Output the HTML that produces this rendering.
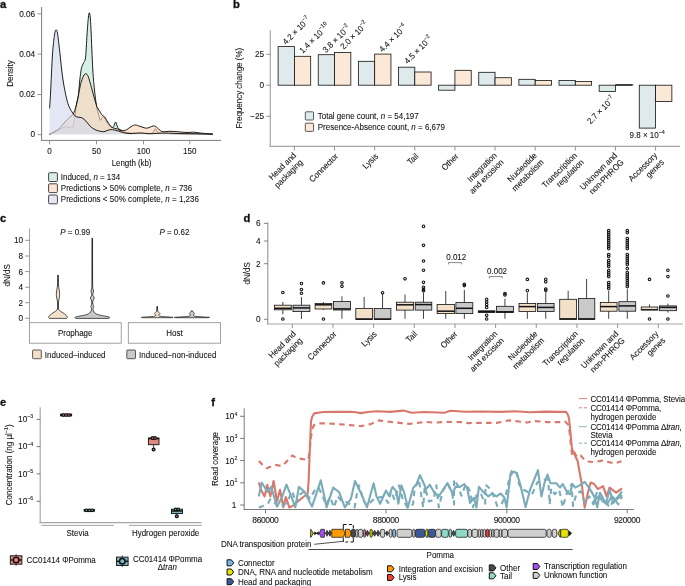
<!DOCTYPE html>
<html lang="en"><head><meta charset="utf-8"><title>Figure</title>
<style>
html,body{margin:0;padding:0;background:#fff;}
body{width:685px;height:586px;overflow:hidden;}
svg{display:block;font-family:"Liberation Sans",Arial,Helvetica,sans-serif;font-size:8.5px;fill:#111111;}
svg text{fill:#111111;stroke:#222;stroke-width:0.09px;paint-order:stroke fill}
</style></head><body>
<svg width="685" height="586" viewBox="0 0 685 586">
<g id="panel-a">
<text transform="translate(0.00 8.00)" font-weight="bold" style="stroke:#000;stroke-width:0.3px" font-size="11.2" fill="#000">a</text>
<path d="M49.60,134.20 C50.30,133.90 52.54,133.00 54.00,132.30 C55.46,131.60 57.42,130.49 58.70,129.80 C59.98,129.11 60.91,128.46 62.00,128.00 C63.09,127.54 64.38,127.03 65.50,126.90 C66.62,126.77 67.91,127.09 69.00,127.20 C70.09,127.31 71.52,128.30 72.30,127.60 C73.08,126.90 73.47,124.66 73.90,122.80 C74.33,120.94 74.58,119.01 75.00,116.00 C75.42,112.99 75.97,107.20 76.50,104.00 C77.03,100.80 77.77,99.84 78.30,96.00 C78.83,92.16 79.30,84.43 79.80,80.00 C80.30,75.57 80.81,71.02 81.40,68.30 C81.99,65.58 82.84,64.68 83.50,63.00 C84.16,61.32 84.94,62.28 85.50,57.80 C86.06,53.32 86.55,41.37 87.00,35.00 C87.45,28.63 87.93,21.55 88.30,18.00 C88.67,14.45 89.00,12.96 89.30,12.80 C89.60,12.64 89.93,14.28 90.20,17.00 C90.47,19.72 90.58,21.32 91.00,29.80 C91.42,38.28 92.24,60.37 92.80,70.00 C93.36,79.63 93.91,84.24 94.50,90.00 C95.09,95.76 95.91,102.29 96.50,106.00 C97.09,109.71 97.59,110.96 98.20,113.20 C98.81,115.44 99.69,119.23 100.30,120.00 C100.91,120.77 101.46,118.54 102.00,118.00 C102.54,117.46 103.14,116.36 103.70,116.60 C104.26,116.84 104.83,118.35 105.50,119.50 C106.17,120.65 106.96,122.55 107.90,123.80 C108.84,125.05 110.49,126.87 111.40,127.30 C112.31,127.73 112.93,127.35 113.60,126.50 C114.27,125.65 115.02,122.08 115.60,122.00 C116.18,121.92 116.75,124.93 117.20,126.00 C117.65,127.07 117.63,127.98 118.40,128.70 C119.17,129.42 120.78,129.89 122.00,130.50 C123.22,131.11 123.92,132.05 126.00,132.50 C128.08,132.95 131.48,133.16 135.00,133.30 C138.52,133.44 145.20,133.45 148.00,133.40 C150.80,133.35 151.30,133.75 152.50,133.00 C153.70,132.25 154.54,128.70 155.50,128.70 C156.46,128.70 156.18,132.22 158.50,133.00 C160.82,133.78 164.96,133.47 170.00,133.60 C175.04,133.73 183.15,133.70 190.00,133.80 C196.85,133.90 209.15,134.14 212.80,134.20 L212.80,134.3 L49.60,134.3 Z" fill="rgb(215,240,230)" stroke="none"/>
<path d="M49.60,134.20 C50.30,133.90 52.54,133.00 54.00,132.30 C55.46,131.60 57.42,130.49 58.70,129.80 C59.98,129.11 60.91,128.46 62.00,128.00 C63.09,127.54 64.38,127.03 65.50,126.90 C66.62,126.77 67.91,127.09 69.00,127.20 C70.09,127.31 71.52,128.30 72.30,127.60 C73.08,126.90 73.47,124.66 73.90,122.80 C74.33,120.94 74.58,119.01 75.00,116.00 C75.42,112.99 75.97,107.20 76.50,104.00 C77.03,100.80 77.77,99.84 78.30,96.00 C78.83,92.16 79.30,84.43 79.80,80.00 C80.30,75.57 80.81,71.02 81.40,68.30 C81.99,65.58 82.84,64.68 83.50,63.00 C84.16,61.32 84.94,62.28 85.50,57.80 C86.06,53.32 86.55,41.37 87.00,35.00 C87.45,28.63 87.93,21.55 88.30,18.00 C88.67,14.45 89.00,12.96 89.30,12.80 C89.60,12.64 89.93,14.28 90.20,17.00 C90.47,19.72 90.58,21.32 91.00,29.80 C91.42,38.28 92.24,60.37 92.80,70.00 C93.36,79.63 93.91,84.24 94.50,90.00 C95.09,95.76 95.91,102.29 96.50,106.00 C97.09,109.71 97.59,110.96 98.20,113.20 C98.81,115.44 99.69,119.23 100.30,120.00 C100.91,120.77 101.46,118.54 102.00,118.00 C102.54,117.46 103.14,116.36 103.70,116.60 C104.26,116.84 104.83,118.35 105.50,119.50 C106.17,120.65 106.96,122.55 107.90,123.80 C108.84,125.05 110.49,126.87 111.40,127.30 C112.31,127.73 112.93,127.35 113.60,126.50 C114.27,125.65 115.02,122.08 115.60,122.00 C116.18,121.92 116.75,124.93 117.20,126.00 C117.65,127.07 117.63,127.98 118.40,128.70 C119.17,129.42 120.78,129.89 122.00,130.50 C123.22,131.11 123.92,132.05 126.00,132.50 C128.08,132.95 131.48,133.16 135.00,133.30 C138.52,133.44 145.20,133.45 148.00,133.40 C150.80,133.35 151.30,133.75 152.50,133.00 C153.70,132.25 154.54,128.70 155.50,128.70 C156.46,128.70 156.18,132.22 158.50,133.00 C160.82,133.78 164.96,133.47 170.00,133.60 C175.04,133.73 183.15,133.70 190.00,133.80 C196.85,133.90 209.15,134.14 212.80,134.20" fill="none" stroke="#111" stroke-width="0.95" stroke-linejoin="round"/>
<path d="M49.60,134.20 C50.30,133.85 52.54,132.83 54.00,132.00 C55.46,131.17 57.42,130.04 58.70,129.00 C59.98,127.96 60.91,126.72 62.00,125.50 C63.09,124.28 64.46,122.55 65.50,121.40 C66.54,120.25 67.62,119.16 68.50,118.30 C69.38,117.44 70.28,116.59 71.00,116.00 C71.72,115.41 72.14,116.36 73.00,114.60 C73.86,112.84 75.52,108.14 76.40,105.00 C77.28,101.86 77.84,98.26 78.50,95.00 C79.16,91.74 79.70,87.64 80.50,84.60 C81.30,81.56 82.64,77.73 83.50,76.00 C84.36,74.27 85.15,73.72 85.90,73.80 C86.65,73.88 87.32,74.34 88.20,76.50 C89.08,78.66 90.47,84.02 91.40,87.30 C92.33,90.58 93.12,93.94 94.00,97.00 C94.88,100.06 96.02,104.16 96.90,106.40 C97.78,108.64 98.64,109.58 99.50,111.00 C100.36,112.42 101.52,114.39 102.30,115.30 C103.08,116.21 103.78,116.06 104.40,116.70 C105.02,117.34 105.66,118.44 106.20,119.30 C106.74,120.16 106.89,120.82 107.80,122.10 C108.71,123.38 110.36,126.20 111.90,127.30 C113.44,128.40 115.94,128.44 117.40,129.00 C118.86,129.56 119.58,130.66 121.00,130.80 C122.42,130.94 124.86,130.46 126.30,129.90 C127.74,129.34 128.69,128.08 130.00,127.30 C131.31,126.52 133.14,125.24 134.50,125.00 C135.86,124.76 137.30,125.48 138.50,125.80 C139.70,126.12 140.75,126.62 142.00,127.00 C143.25,127.38 145.02,128.17 146.30,128.20 C147.58,128.23 148.88,127.57 150.00,127.20 C151.12,126.83 152.37,126.00 153.30,125.90 C154.23,125.80 155.10,126.23 155.80,126.60 C156.50,126.97 157.03,127.61 157.70,128.20 C158.37,128.79 159.17,129.74 160.00,130.30 C160.83,130.86 161.30,131.54 162.90,131.70 C164.50,131.86 167.62,131.30 170.00,131.30 C172.38,131.30 175.24,131.51 177.80,131.70 C180.36,131.89 183.47,132.42 186.00,132.50 C188.53,132.58 191.36,132.12 193.60,132.20 C195.84,132.28 198.02,132.78 200.00,133.00 C201.98,133.22 203.95,133.41 206.00,133.60 C208.05,133.79 211.71,134.10 212.80,134.20 L212.80,134.3 L49.60,134.3 Z" fill="rgba(253,212,183,0.6)" stroke="none"/>
<path d="M49.60,134.20 C50.30,133.85 52.54,132.83 54.00,132.00 C55.46,131.17 57.42,130.04 58.70,129.00 C59.98,127.96 60.91,126.72 62.00,125.50 C63.09,124.28 64.46,122.55 65.50,121.40 C66.54,120.25 67.62,119.16 68.50,118.30 C69.38,117.44 70.28,116.59 71.00,116.00 C71.72,115.41 72.14,116.36 73.00,114.60 C73.86,112.84 75.52,108.14 76.40,105.00 C77.28,101.86 77.84,98.26 78.50,95.00 C79.16,91.74 79.70,87.64 80.50,84.60 C81.30,81.56 82.64,77.73 83.50,76.00 C84.36,74.27 85.15,73.72 85.90,73.80 C86.65,73.88 87.32,74.34 88.20,76.50 C89.08,78.66 90.47,84.02 91.40,87.30 C92.33,90.58 93.12,93.94 94.00,97.00 C94.88,100.06 96.02,104.16 96.90,106.40 C97.78,108.64 98.64,109.58 99.50,111.00 C100.36,112.42 101.52,114.39 102.30,115.30 C103.08,116.21 103.78,116.06 104.40,116.70 C105.02,117.34 105.66,118.44 106.20,119.30 C106.74,120.16 106.89,120.82 107.80,122.10 C108.71,123.38 110.36,126.20 111.90,127.30 C113.44,128.40 115.94,128.44 117.40,129.00 C118.86,129.56 119.58,130.66 121.00,130.80 C122.42,130.94 124.86,130.46 126.30,129.90 C127.74,129.34 128.69,128.08 130.00,127.30 C131.31,126.52 133.14,125.24 134.50,125.00 C135.86,124.76 137.30,125.48 138.50,125.80 C139.70,126.12 140.75,126.62 142.00,127.00 C143.25,127.38 145.02,128.17 146.30,128.20 C147.58,128.23 148.88,127.57 150.00,127.20 C151.12,126.83 152.37,126.00 153.30,125.90 C154.23,125.80 155.10,126.23 155.80,126.60 C156.50,126.97 157.03,127.61 157.70,128.20 C158.37,128.79 159.17,129.74 160.00,130.30 C160.83,130.86 161.30,131.54 162.90,131.70 C164.50,131.86 167.62,131.30 170.00,131.30 C172.38,131.30 175.24,131.51 177.80,131.70 C180.36,131.89 183.47,132.42 186.00,132.50 C188.53,132.58 191.36,132.12 193.60,132.20 C195.84,132.28 198.02,132.78 200.00,133.00 C201.98,133.22 203.95,133.41 206.00,133.60 C208.05,133.79 211.71,134.10 212.80,134.20" fill="none" stroke="#111" stroke-width="0.95" stroke-linejoin="round"/>
<path d="M49.60,108.40 C49.76,105.78 50.14,100.70 50.60,92.00 C51.06,83.30 51.88,63.12 52.50,54.00 C53.12,44.88 53.94,38.87 54.50,35.00 C55.06,31.13 55.50,29.96 56.00,29.80 C56.50,29.64 56.96,30.13 57.60,34.00 C58.24,37.87 59.14,46.64 60.00,54.00 C60.86,61.36 61.77,72.19 63.00,80.00 C64.23,87.81 66.12,97.47 67.70,102.80 C69.28,108.13 71.51,111.06 72.90,113.30 C74.29,115.54 74.99,116.10 76.40,116.80 C77.81,117.50 80.16,117.00 81.70,117.70 C83.24,118.40 84.61,119.81 86.00,121.20 C87.39,122.59 89.04,125.10 90.40,126.40 C91.76,127.70 93.24,128.60 94.50,129.30 C95.76,130.00 96.84,130.42 98.30,130.80 C99.76,131.18 101.63,131.89 103.60,131.70 C105.57,131.51 108.36,129.74 110.60,129.60 C112.84,129.46 115.65,130.34 117.60,130.80 C119.55,131.26 120.82,132.05 122.80,132.50 C124.78,132.95 127.25,133.52 130.00,133.60 C132.75,133.68 136.80,132.98 140.00,133.00 C143.20,133.02 146.00,133.70 150.00,133.70 C154.00,133.70 160.20,133.02 165.00,133.00 C169.80,132.98 174.40,133.47 180.00,133.60 C185.60,133.73 194.75,133.70 200.00,133.80 C205.25,133.90 210.75,134.14 212.80,134.20 L212.80,134.3 L49.60,134.3 Z" fill="rgba(212,218,237,0.65)" stroke="none"/>
<path d="M49.60,108.40 C49.76,105.78 50.14,100.70 50.60,92.00 C51.06,83.30 51.88,63.12 52.50,54.00 C53.12,44.88 53.94,38.87 54.50,35.00 C55.06,31.13 55.50,29.96 56.00,29.80 C56.50,29.64 56.96,30.13 57.60,34.00 C58.24,37.87 59.14,46.64 60.00,54.00 C60.86,61.36 61.77,72.19 63.00,80.00 C64.23,87.81 66.12,97.47 67.70,102.80 C69.28,108.13 71.51,111.06 72.90,113.30 C74.29,115.54 74.99,116.10 76.40,116.80 C77.81,117.50 80.16,117.00 81.70,117.70 C83.24,118.40 84.61,119.81 86.00,121.20 C87.39,122.59 89.04,125.10 90.40,126.40 C91.76,127.70 93.24,128.60 94.50,129.30 C95.76,130.00 96.84,130.42 98.30,130.80 C99.76,131.18 101.63,131.89 103.60,131.70 C105.57,131.51 108.36,129.74 110.60,129.60 C112.84,129.46 115.65,130.34 117.60,130.80 C119.55,131.26 120.82,132.05 122.80,132.50 C124.78,132.95 127.25,133.52 130.00,133.60 C132.75,133.68 136.80,132.98 140.00,133.00 C143.20,133.02 146.00,133.70 150.00,133.70 C154.00,133.70 160.20,133.02 165.00,133.00 C169.80,132.98 174.40,133.47 180.00,133.60 C185.60,133.73 194.75,133.70 200.00,133.80 C205.25,133.90 210.75,134.14 212.80,134.20" fill="none" stroke="#111" stroke-width="0.95" stroke-linejoin="round"/>
<line x1="41.60" y1="7.00" x2="41.60" y2="140.90" stroke="#7c7c7c" stroke-width="1.0"/>
<line x1="41.10" y1="140.40" x2="221.20" y2="140.40" stroke="#7c7c7c" stroke-width="1.0"/>
<line x1="37.60" y1="13.80" x2="41.60" y2="13.80" stroke="#777" stroke-width="0.8"/>
<text transform="translate(35.20 16.50) scale(0.97 1)" text-anchor="end">0.06</text>
<line x1="37.60" y1="54.10" x2="41.60" y2="54.10" stroke="#777" stroke-width="0.8"/>
<text transform="translate(35.20 56.80) scale(0.97 1)" text-anchor="end">0.04</text>
<line x1="37.60" y1="94.50" x2="41.60" y2="94.50" stroke="#777" stroke-width="0.8"/>
<text transform="translate(35.20 97.20) scale(0.97 1)" text-anchor="end">0.02</text>
<line x1="37.60" y1="134.70" x2="41.60" y2="134.70" stroke="#777" stroke-width="0.8"/>
<text transform="translate(35.20 137.40) scale(0.97 1)" text-anchor="end">0</text>
<line x1="49.60" y1="140.40" x2="49.60" y2="144.30" stroke="#777" stroke-width="0.8"/>
<text transform="translate(49.60 154.30) scale(0.95 1)" text-anchor="middle">0</text>
<line x1="96.50" y1="140.40" x2="96.50" y2="144.30" stroke="#777" stroke-width="0.8"/>
<text transform="translate(96.50 154.30) scale(0.95 1)" text-anchor="middle">50</text>
<line x1="143.50" y1="140.40" x2="143.50" y2="144.30" stroke="#777" stroke-width="0.8"/>
<text transform="translate(143.50 154.30) scale(0.95 1)" text-anchor="middle">100</text>
<line x1="189.80" y1="140.40" x2="189.80" y2="144.30" stroke="#777" stroke-width="0.8"/>
<text transform="translate(189.80 154.30) scale(0.95 1)" text-anchor="middle">150</text>
<text transform="translate(131.60 165.80) scale(0.94 1)" text-anchor="middle" textLength="42.34">Length (kb)</text>
<text transform="translate(13.20 73.50) rotate(-90) scale(0.94 1)" text-anchor="middle">Density</text>
<rect x="48.60" y="172.70" width="8.80" height="8.80" fill="#d6ede2" stroke="#333" stroke-width="0.9" rx="1"/>
<text transform="translate(60.80 180.10) scale(0.94 1)" textLength="63.09">Induced, <tspan font-style="italic">n</tspan> = 134</text>
<rect x="48.60" y="183.80" width="8.80" height="8.80" fill="#fee4d4" stroke="#333" stroke-width="0.9" rx="1"/>
<text transform="translate(60.80 191.20) scale(0.94 1)" textLength="139.89">Predictions &gt; 50% complete, <tspan font-style="italic">n</tspan> = 736</text>
<rect x="48.60" y="195.00" width="8.80" height="8.80" fill="#e4e8f3" stroke="#333" stroke-width="0.9" rx="1"/>
<text transform="translate(60.80 202.40) scale(0.94 1)" textLength="147.02">Predictions &lt; 50% complete, <tspan font-style="italic">n</tspan> = 1,236</text>
</g>
<g id="panel-b">
<text transform="translate(233.00 8.00)" font-weight="bold" style="stroke:#000;stroke-width:0.3px" font-size="11.2" fill="#000">b</text>
<rect x="278.10" y="46.60" width="16.30" height="38.60" fill="#deeaeb" stroke="#111" stroke-width="0.8"/>
<rect x="294.40" y="56.30" width="16.30" height="28.90" fill="#fbe8d6" stroke="#111" stroke-width="0.8"/>
<text transform="translate(285.95 45.10) rotate(-45) scale(0.94 1)">4.2 × 10<tspan font-size="5.8" dy="-3.9">−7</tspan></text>
<text transform="translate(302.75 53.80) rotate(-45) scale(0.94 1)">1.4 × 10<tspan font-size="5.8" dy="-3.9">−10</tspan></text>
<rect x="318.23" y="54.70" width="16.30" height="30.50" fill="#deeaeb" stroke="#111" stroke-width="0.8"/>
<rect x="334.53" y="52.50" width="16.30" height="32.70" fill="#fbe8d6" stroke="#111" stroke-width="0.8"/>
<text transform="translate(326.08 53.20) rotate(-45) scale(0.94 1)">3.8 × 10<tspan font-size="5.8" dy="-3.9">−2</tspan></text>
<text transform="translate(343.68 49.70) rotate(-45) scale(0.94 1)">2.0 × 10<tspan font-size="5.8" dy="-3.9">−2</tspan></text>
<rect x="358.36" y="61.30" width="16.30" height="23.90" fill="#deeaeb" stroke="#111" stroke-width="0.8"/>
<rect x="374.66" y="54.10" width="16.30" height="31.10" fill="#fbe8d6" stroke="#111" stroke-width="0.8"/>
<text transform="translate(382.51 52.60) rotate(-45) scale(0.94 1)">4.4 × 10<tspan font-size="5.8" dy="-3.9">−4</tspan></text>
<rect x="398.49" y="67.20" width="16.30" height="18.00" fill="#deeaeb" stroke="#111" stroke-width="0.8"/>
<rect x="414.79" y="72.00" width="16.30" height="13.20" fill="#fbe8d6" stroke="#111" stroke-width="0.8"/>
<text transform="translate(407.84 64.20) rotate(-45) scale(0.94 1)">4.5 × 10<tspan font-size="5.8" dy="-3.9">−2</tspan></text>
<rect x="438.62" y="85.20" width="16.30" height="5.00" fill="#deeaeb" stroke="#111" stroke-width="0.8"/>
<rect x="454.92" y="70.30" width="16.30" height="14.90" fill="#fbe8d6" stroke="#111" stroke-width="0.8"/>
<rect x="478.75" y="72.30" width="16.30" height="12.90" fill="#deeaeb" stroke="#111" stroke-width="0.8"/>
<rect x="495.05" y="77.70" width="16.30" height="7.50" fill="#fbe8d6" stroke="#111" stroke-width="0.8"/>
<rect x="518.88" y="79.30" width="16.30" height="5.90" fill="#deeaeb" stroke="#111" stroke-width="0.8"/>
<rect x="535.18" y="80.40" width="16.30" height="4.80" fill="#fbe8d6" stroke="#111" stroke-width="0.8"/>
<rect x="559.01" y="80.40" width="16.30" height="4.80" fill="#deeaeb" stroke="#111" stroke-width="0.8"/>
<rect x="575.31" y="81.50" width="16.30" height="3.70" fill="#fbe8d6" stroke="#111" stroke-width="0.8"/>
<rect x="599.14" y="85.20" width="16.30" height="6.30" fill="#deeaeb" stroke="#111" stroke-width="0.8"/>
<rect x="615.44" y="84.90" width="16.30" height="0.30" fill="#fbe8d6" stroke="#111" stroke-width="0.8"/>
<rect x="639.27" y="85.20" width="16.30" height="42.90" fill="#deeaeb" stroke="#111" stroke-width="0.8"/>
<rect x="655.57" y="85.20" width="16.30" height="16.30" fill="#fbe8d6" stroke="#111" stroke-width="0.8"/>
<text transform="translate(590.50 124.50) rotate(-45) scale(0.94 1)">2.7 × 10<tspan font-size="5.8" dy="-3.9">−7</tspan></text>
<text transform="translate(629.60 138.30) scale(0.94 1)">9.8 × 10<tspan font-size="5.8" dy="-3.9">−4</tspan></text>
<line x1="270.30" y1="30.20" x2="270.30" y2="147.00" stroke="#a6a6a6" stroke-width="1.2"/>
<line x1="269.70" y1="146.40" x2="680.00" y2="146.40" stroke="#a6a6a6" stroke-width="1.2"/>
<line x1="266.40" y1="54.30" x2="270.30" y2="54.30" stroke="#777" stroke-width="0.8"/>
<text transform="translate(264.20 57.30) scale(0.97 1)" text-anchor="end">25</text>
<line x1="266.40" y1="85.20" x2="270.30" y2="85.20" stroke="#777" stroke-width="0.8"/>
<text transform="translate(264.20 88.20) scale(0.97 1)" text-anchor="end">0</text>
<line x1="266.40" y1="116.30" x2="270.30" y2="116.30" stroke="#777" stroke-width="0.8"/>
<text transform="translate(264.20 119.30) scale(0.97 1)" text-anchor="end">−25</text>
<text transform="translate(242.20 88.20) rotate(-90) scale(0.94 1)" text-anchor="middle">Frequency change (%)</text>
<line x1="294.40" y1="146.50" x2="294.40" y2="150.50" stroke="#777" stroke-width="0.8"/>
<text transform="translate(296.70 156.00) rotate(-45) scale(0.94 1)" text-anchor="end">Head and</text>
<text transform="translate(303.40 162.80) rotate(-45) scale(0.94 1)" text-anchor="end">packaging</text>
<line x1="334.53" y1="146.50" x2="334.53" y2="150.50" stroke="#777" stroke-width="0.8"/>
<text transform="translate(338.63 156.80) rotate(-45) scale(0.94 1)" text-anchor="end">Connector</text>
<line x1="374.66" y1="146.50" x2="374.66" y2="150.50" stroke="#777" stroke-width="0.8"/>
<text transform="translate(378.76 156.80) rotate(-45) scale(0.94 1)" text-anchor="end">Lysis</text>
<line x1="414.79" y1="146.50" x2="414.79" y2="150.50" stroke="#777" stroke-width="0.8"/>
<text transform="translate(418.89 156.80) rotate(-45) scale(0.94 1)" text-anchor="end">Tail</text>
<line x1="454.92" y1="146.50" x2="454.92" y2="150.50" stroke="#777" stroke-width="0.8"/>
<text transform="translate(459.02 156.80) rotate(-45) scale(0.94 1)" text-anchor="end">Other</text>
<line x1="495.05" y1="146.50" x2="495.05" y2="150.50" stroke="#777" stroke-width="0.8"/>
<text transform="translate(497.35 156.00) rotate(-45) scale(0.94 1)" text-anchor="end">Integration</text>
<text transform="translate(504.05 162.80) rotate(-45) scale(0.94 1)" text-anchor="end">and excision</text>
<line x1="535.18" y1="146.50" x2="535.18" y2="150.50" stroke="#777" stroke-width="0.8"/>
<text transform="translate(537.48 156.00) rotate(-45) scale(0.94 1)" text-anchor="end">Nucleotide</text>
<text transform="translate(544.18 162.80) rotate(-45) scale(0.94 1)" text-anchor="end">metabolism</text>
<line x1="575.31" y1="146.50" x2="575.31" y2="150.50" stroke="#777" stroke-width="0.8"/>
<text transform="translate(577.61 156.00) rotate(-45) scale(0.94 1)" text-anchor="end">Transcription</text>
<text transform="translate(584.31 162.80) rotate(-45) scale(0.94 1)" text-anchor="end">regulation</text>
<line x1="615.44" y1="146.50" x2="615.44" y2="150.50" stroke="#777" stroke-width="0.8"/>
<text transform="translate(617.74 156.00) rotate(-45) scale(0.94 1)" text-anchor="end">Unknown and</text>
<text transform="translate(624.44 162.80) rotate(-45) scale(0.94 1)" text-anchor="end">non-PHROG</text>
<line x1="655.57" y1="146.50" x2="655.57" y2="150.50" stroke="#777" stroke-width="0.8"/>
<text transform="translate(657.87 156.00) rotate(-45) scale(0.94 1)" text-anchor="end">Accessory</text>
<text transform="translate(664.57 162.80) rotate(-45) scale(0.94 1)" text-anchor="end">genes</text>
<rect x="305.30" y="111.80" width="8.20" height="8.20" fill="#deeaeb" stroke="#333" stroke-width="0.8" rx="0.8"/>
<text transform="translate(317.80 118.80) scale(0.94 1)">Total gene count, <tspan font-style="italic">n</tspan> = 54,197</text>
<rect x="305.30" y="123.20" width="8.20" height="8.20" fill="#fbe8d6" stroke="#333" stroke-width="0.8" rx="0.8"/>
<text transform="translate(317.80 130.20) scale(0.94 1)">Presence-Absence count, <tspan font-style="italic">n</tspan> = 6,679</text>
<line x1="615.80" y1="84.90" x2="633.30" y2="84.90" stroke="#111" stroke-width="1.0"/>
</g>
<g id="panel-c">
<text transform="translate(0.00 222.30)" font-weight="bold" style="stroke:#000;stroke-width:0.3px" font-size="11.2" fill="#000">c</text>
<line x1="58.00" y1="275.10" x2="58.00" y2="316.40" stroke="#111" stroke-width="0.9"/>
<path d="M49.40,318.40 C49.29,318.27 48.72,318.02 48.70,317.60 C48.68,317.18 48.87,316.38 49.30,315.80 C49.73,315.22 50.65,314.58 51.40,314.00 C52.15,313.42 53.22,312.74 54.00,312.20 C54.78,311.66 55.76,311.08 56.30,310.60 C56.84,310.12 57.19,310.10 57.40,309.20 C57.61,308.30 57.60,306.31 57.60,305.00 C57.60,303.69 57.54,302.12 57.40,301.00 C57.26,299.88 56.88,299.02 56.70,298.00 C56.52,296.98 56.32,295.72 56.30,294.60 C56.28,293.48 56.46,292.14 56.60,291.00 C56.74,289.86 57.04,288.62 57.20,287.50 C57.36,286.38 57.52,285.20 57.60,284.00 C57.68,282.80 57.67,281.42 57.70,280.00 C57.73,278.58 57.78,275.88 57.80,275.10 L58.20,275.10 C58.22,275.88 58.27,278.58 58.30,280.00 C58.33,281.42 58.32,282.80 58.40,284.00 C58.48,285.20 58.64,286.38 58.80,287.50 C58.96,288.62 59.26,289.86 59.40,291.00 C59.54,292.14 59.72,293.48 59.70,294.60 C59.68,295.72 59.48,296.98 59.30,298.00 C59.12,299.02 58.74,299.88 58.60,301.00 C58.46,302.12 58.40,303.69 58.40,305.00 C58.40,306.31 58.39,308.30 58.60,309.20 C58.81,310.10 59.16,310.12 59.70,310.60 C60.24,311.08 61.22,311.66 62.00,312.20 C62.78,312.74 63.85,313.42 64.60,314.00 C65.35,314.58 66.27,315.22 66.70,315.80 C67.13,316.38 67.32,317.18 67.30,317.60 C67.28,318.02 66.71,318.27 66.60,318.40 Z" fill="#f3e0c8" stroke="#111" stroke-width="0.7" stroke-linejoin="round"/>
<line x1="92.30" y1="238.20" x2="92.30" y2="316.40" stroke="#111" stroke-width="0.9"/>
<path d="M76.30,318.40 C76.11,318.34 75.18,318.24 75.10,318.00 C75.02,317.76 74.81,317.25 75.80,316.90 C76.79,316.55 79.54,316.17 81.30,315.80 C83.06,315.43 85.46,315.05 86.80,314.60 C88.14,314.15 89.01,313.58 89.70,313.00 C90.39,312.42 90.80,311.72 91.10,311.00 C91.40,310.28 91.65,309.24 91.60,308.50 C91.55,307.76 90.78,307.07 90.80,306.40 C90.82,305.73 91.56,305.16 91.70,304.30 C91.84,303.44 91.92,302.01 91.70,301.00 C91.48,299.99 90.30,298.88 90.30,298.00 C90.30,297.12 91.49,296.22 91.70,295.50 C91.91,294.78 91.71,294.22 91.60,293.50 C91.49,292.78 90.98,291.80 91.00,291.00 C91.02,290.20 91.56,289.30 91.70,288.50 C91.84,287.70 91.85,287.36 91.90,286.00 C91.95,284.64 91.98,284.16 92.00,280.00 C92.02,275.84 92.03,266.69 92.05,260.00 C92.07,253.31 92.09,241.69 92.10,238.20 L92.50,238.20 C92.51,241.69 92.53,253.31 92.55,260.00 C92.57,266.69 92.58,275.84 92.60,280.00 C92.62,284.16 92.65,284.64 92.70,286.00 C92.75,287.36 92.76,287.70 92.90,288.50 C93.04,289.30 93.58,290.20 93.60,291.00 C93.62,291.80 93.11,292.78 93.00,293.50 C92.89,294.22 92.69,294.78 92.90,295.50 C93.11,296.22 94.30,297.12 94.30,298.00 C94.30,298.88 93.12,299.99 92.90,301.00 C92.68,302.01 92.76,303.44 92.90,304.30 C93.04,305.16 93.78,305.73 93.80,306.40 C93.82,307.07 93.05,307.76 93.00,308.50 C92.95,309.24 93.20,310.28 93.50,311.00 C93.80,311.72 94.21,312.42 94.90,313.00 C95.59,313.58 96.46,314.15 97.80,314.60 C99.14,315.05 101.54,315.43 103.30,315.80 C105.06,316.17 107.81,316.55 108.80,316.90 C109.79,317.25 109.58,317.76 109.50,318.00 C109.42,318.24 108.49,318.34 108.30,318.40 Z" fill="#c9c9c9" stroke="#111" stroke-width="0.7" stroke-linejoin="round"/>
<line x1="157.20" y1="306.40" x2="157.20" y2="315.70" stroke="#111" stroke-width="0.9"/>
<path d="M143.20,317.70 C142.93,317.64 140.70,317.44 141.50,317.30 C142.30,317.16 146.10,316.98 148.20,316.80 C150.30,316.62 153.38,316.49 154.60,316.20 C155.82,315.91 155.83,315.42 155.80,315.00 C155.77,314.58 154.40,314.05 154.40,313.60 C154.40,313.15 155.42,312.62 155.80,312.20 C156.18,311.78 156.62,311.51 156.80,311.00 C156.98,310.49 156.92,309.74 156.95,309.00 C156.98,308.26 156.99,306.82 157.00,306.40 L157.40,306.40 C157.41,306.82 157.42,308.26 157.45,309.00 C157.48,309.74 157.42,310.49 157.60,311.00 C157.78,311.51 158.22,311.78 158.60,312.20 C158.98,312.62 160.00,313.15 160.00,313.60 C160.00,314.05 158.63,314.58 158.60,315.00 C158.57,315.42 158.58,315.91 159.80,316.20 C161.02,316.49 164.10,316.62 166.20,316.80 C168.30,316.98 172.10,317.16 172.90,317.30 C173.70,317.44 171.47,317.64 171.20,317.70 Z" fill="#f3e0c8" stroke="#111" stroke-width="0.7" stroke-linejoin="round"/>
<line x1="191.90" y1="310.70" x2="191.90" y2="315.70" stroke="#111" stroke-width="0.9"/>
<path d="M176.90,317.70 C176.52,317.64 173.54,317.44 174.50,317.30 C175.46,317.16 180.53,316.98 182.90,316.80 C185.27,316.62 188.12,316.52 189.30,316.20 C190.48,315.88 190.30,315.25 190.30,314.80 C190.30,314.35 189.24,313.85 189.30,313.40 C189.36,312.95 190.32,312.43 190.70,312.00 C191.08,311.57 191.54,310.91 191.70,310.70 L192.10,310.70 C192.26,310.91 192.72,311.57 193.10,312.00 C193.48,312.43 194.44,312.95 194.50,313.40 C194.56,313.85 193.50,314.35 193.50,314.80 C193.50,315.25 193.32,315.88 194.50,316.20 C195.68,316.52 198.53,316.62 200.90,316.80 C203.27,316.98 208.34,317.16 209.30,317.30 C210.26,317.44 207.28,317.64 206.90,317.70 Z" fill="#c9c9c9" stroke="#111" stroke-width="0.7" stroke-linejoin="round"/>
<text transform="translate(75.20 234.60) scale(0.94 1)" text-anchor="middle"><tspan font-style="italic">P</tspan> = 0.99</text>
<text transform="translate(174.40 234.60) scale(0.94 1)" text-anchor="middle"><tspan font-style="italic">P</tspan> = 0.62</text>
<line x1="29.50" y1="228.40" x2="29.50" y2="322.70" stroke="#8a8a8a" stroke-width="0.8"/>
<line x1="25.20" y1="240.30" x2="29.50" y2="240.30" stroke="#777" stroke-width="0.8"/>
<text transform="translate(23.20 243.30) scale(0.97 1)" text-anchor="end">10</text>
<line x1="25.20" y1="256.00" x2="29.50" y2="256.00" stroke="#777" stroke-width="0.8"/>
<text transform="translate(23.20 259.00) scale(0.97 1)" text-anchor="end">8</text>
<line x1="25.20" y1="271.60" x2="29.50" y2="271.60" stroke="#777" stroke-width="0.8"/>
<text transform="translate(23.20 274.60) scale(0.97 1)" text-anchor="end">6</text>
<line x1="25.20" y1="287.20" x2="29.50" y2="287.20" stroke="#777" stroke-width="0.8"/>
<text transform="translate(23.20 290.20) scale(0.97 1)" text-anchor="end">4</text>
<line x1="25.20" y1="302.70" x2="29.50" y2="302.70" stroke="#777" stroke-width="0.8"/>
<text transform="translate(23.20 305.70) scale(0.97 1)" text-anchor="end">2</text>
<line x1="25.20" y1="318.20" x2="29.50" y2="318.20" stroke="#777" stroke-width="0.8"/>
<text transform="translate(23.20 321.20) scale(0.97 1)" text-anchor="end">0</text>
<text transform="translate(10.00 275.30) rotate(-90) scale(0.94 1)" text-anchor="middle">dN/dS</text>
<rect x="29.50" y="322.70" width="91.70" height="20.50" fill="#fff" stroke="#8a8a8a" stroke-width="0.8"/>
<rect x="128.30" y="322.70" width="92.30" height="20.50" fill="#fff" stroke="#8a8a8a" stroke-width="0.8"/>
<text transform="translate(75.20 335.90) scale(0.94 1)" text-anchor="middle">Prophage</text>
<text transform="translate(174.50 335.90) scale(0.94 1)" text-anchor="middle">Host</text>
<rect x="32.60" y="350.00" width="8.70" height="8.70" fill="#f3e0c8" stroke="#333" stroke-width="0.8" rx="0.8"/>
<text transform="translate(44.80 357.60) scale(0.94 1)">Induced–induced</text>
<rect x="126.80" y="350.00" width="8.70" height="8.70" fill="#c9c9c9" stroke="#333" stroke-width="0.8" rx="0.8"/>
<text transform="translate(138.90 357.60) scale(0.94 1)" textLength="82.55">Induced–non-induced</text>
</g>
<g id="panel-d">
<text transform="translate(243.60 221.60)" font-weight="bold" style="stroke:#000;stroke-width:0.3px" font-size="11.2" fill="#000">d</text>
<line x1="282.85" y1="302.00" x2="282.85" y2="305.20" stroke="#111" stroke-width="0.8"/>
<line x1="282.85" y1="309.80" x2="282.85" y2="314.30" stroke="#111" stroke-width="0.8"/>
<rect x="274.40" y="305.20" width="16.90" height="4.60" fill="#f3e0c8" stroke="#111" stroke-width="0.8"/>
<line x1="274.40" y1="308.30" x2="291.30" y2="308.30" stroke="#111" stroke-width="1.5"/>
<circle cx="282.85" cy="292.50" r="1.3" fill="none" stroke="#111" stroke-width="1.05"/>
<circle cx="282.85" cy="319.00" r="1.3" fill="none" stroke="#111" stroke-width="1.05"/>
<line x1="301.45" y1="297.10" x2="301.45" y2="305.20" stroke="#111" stroke-width="0.8"/>
<line x1="301.45" y1="311.60" x2="301.45" y2="319.00" stroke="#111" stroke-width="0.8"/>
<rect x="293.00" y="305.20" width="16.90" height="6.40" fill="#c9c9c9" stroke="#111" stroke-width="0.8"/>
<line x1="293.00" y1="307.90" x2="309.90" y2="307.90" stroke="#111" stroke-width="1.5"/>
<circle cx="301.45" cy="283.60" r="1.3" fill="none" stroke="#111" stroke-width="1.05"/>
<circle cx="301.45" cy="289.50" r="1.3" fill="none" stroke="#111" stroke-width="1.05"/>
<circle cx="301.45" cy="293.20" r="1.3" fill="none" stroke="#111" stroke-width="1.05"/>
<line x1="323.45" y1="302.00" x2="323.45" y2="303.50" stroke="#111" stroke-width="0.8"/>
<line x1="323.45" y1="309.00" x2="323.45" y2="309.80" stroke="#111" stroke-width="0.8"/>
<rect x="315.10" y="303.50" width="16.70" height="5.50" fill="#f3e0c8" stroke="#111" stroke-width="0.8"/>
<line x1="315.10" y1="304.80" x2="331.80" y2="304.80" stroke="#111" stroke-width="1.5"/>
<circle cx="323.45" cy="282.90" r="1.3" fill="none" stroke="#111" stroke-width="1.05"/>
<circle cx="323.45" cy="319.00" r="1.3" fill="none" stroke="#111" stroke-width="1.05"/>
<line x1="341.95" y1="296.30" x2="341.95" y2="301.50" stroke="#111" stroke-width="0.8"/>
<line x1="341.95" y1="310.00" x2="341.95" y2="318.80" stroke="#111" stroke-width="0.8"/>
<rect x="333.50" y="301.50" width="16.90" height="8.50" fill="#c9c9c9" stroke="#111" stroke-width="0.8"/>
<line x1="333.50" y1="308.90" x2="350.40" y2="308.90" stroke="#111" stroke-width="1.5"/>
<circle cx="341.95" cy="282.80" r="1.3" fill="none" stroke="#111" stroke-width="1.05"/>
<circle cx="341.95" cy="286.30" r="1.3" fill="none" stroke="#111" stroke-width="1.05"/>
<line x1="364.15" y1="296.90" x2="364.15" y2="308.50" stroke="#111" stroke-width="0.8"/>
<rect x="355.80" y="308.50" width="16.70" height="10.90" fill="#f3e0c8" stroke="#111" stroke-width="0.8"/>
<line x1="355.80" y1="319.00" x2="372.50" y2="319.00" stroke="#111" stroke-width="1.5"/>
<line x1="382.55" y1="293.80" x2="382.55" y2="308.50" stroke="#111" stroke-width="0.8"/>
<rect x="374.20" y="308.50" width="16.70" height="10.90" fill="#c9c9c9" stroke="#111" stroke-width="0.8"/>
<line x1="374.20" y1="319.00" x2="390.90" y2="319.00" stroke="#111" stroke-width="1.5"/>
<circle cx="382.55" cy="292.80" r="1.3" fill="none" stroke="#111" stroke-width="1.05"/>
<line x1="405.00" y1="294.50" x2="405.00" y2="302.20" stroke="#111" stroke-width="0.8"/>
<line x1="405.00" y1="310.10" x2="405.00" y2="318.80" stroke="#111" stroke-width="0.8"/>
<rect x="396.50" y="302.20" width="17.00" height="7.90" fill="#f3e0c8" stroke="#111" stroke-width="0.8"/>
<line x1="396.50" y1="304.80" x2="413.50" y2="304.80" stroke="#111" stroke-width="1.5"/>
<circle cx="405.00" cy="278.80" r="1.3" fill="none" stroke="#111" stroke-width="1.05"/>
<line x1="423.50" y1="292.80" x2="423.50" y2="302.20" stroke="#111" stroke-width="0.8"/>
<line x1="423.50" y1="310.10" x2="423.50" y2="318.80" stroke="#111" stroke-width="0.8"/>
<rect x="415.20" y="302.20" width="16.60" height="7.90" fill="#c9c9c9" stroke="#111" stroke-width="0.8"/>
<line x1="415.20" y1="304.60" x2="431.80" y2="304.60" stroke="#111" stroke-width="1.5"/>
<circle cx="423.50" cy="226.40" r="1.3" fill="none" stroke="#111" stroke-width="1.05"/>
<circle cx="423.50" cy="245.30" r="1.3" fill="none" stroke="#111" stroke-width="1.05"/>
<circle cx="423.50" cy="261.00" r="1.3" fill="none" stroke="#111" stroke-width="1.05"/>
<circle cx="423.50" cy="270.20" r="1.3" fill="none" stroke="#111" stroke-width="1.05"/>
<circle cx="423.50" cy="282.30" r="1.3" fill="none" stroke="#111" stroke-width="1.05"/>
<circle cx="423.50" cy="287.30" r="1.3" fill="none" stroke="#111" stroke-width="1.05"/>
<circle cx="423.50" cy="289.30" r="1.3" fill="none" stroke="#111" stroke-width="1.05"/>
<circle cx="423.50" cy="290.80" r="1.3" fill="none" stroke="#111" stroke-width="1.05"/>
<line x1="445.75" y1="291.00" x2="445.75" y2="304.40" stroke="#111" stroke-width="0.8"/>
<line x1="445.75" y1="313.60" x2="445.75" y2="318.80" stroke="#111" stroke-width="0.8"/>
<rect x="437.10" y="304.40" width="17.30" height="9.20" fill="#f3e0c8" stroke="#111" stroke-width="0.8"/>
<line x1="437.10" y1="311.20" x2="454.40" y2="311.20" stroke="#111" stroke-width="1.5"/>
<line x1="464.35" y1="289.90" x2="464.35" y2="302.60" stroke="#111" stroke-width="0.8"/>
<line x1="464.35" y1="313.60" x2="464.35" y2="318.80" stroke="#111" stroke-width="0.8"/>
<rect x="455.90" y="302.60" width="16.90" height="11.00" fill="#c9c9c9" stroke="#111" stroke-width="0.8"/>
<line x1="455.90" y1="308.30" x2="472.80" y2="308.30" stroke="#111" stroke-width="1.5"/>
<circle cx="464.35" cy="284.30" r="1.3" fill="none" stroke="#111" stroke-width="1.05"/>
<circle cx="464.35" cy="285.60" r="1.3" fill="none" stroke="#111" stroke-width="1.05"/>
<rect x="478.30" y="310.80" width="16.70" height="1.70" fill="#f3e0c8" stroke="#111" stroke-width="0.8"/>
<line x1="478.30" y1="311.70" x2="495.00" y2="311.70" stroke="#111" stroke-width="1.5"/>
<circle cx="486.65" cy="299.30" r="1.3" fill="none" stroke="#111" stroke-width="1.05"/>
<circle cx="486.65" cy="302.00" r="1.3" fill="none" stroke="#111" stroke-width="1.05"/>
<circle cx="486.65" cy="304.60" r="1.3" fill="none" stroke="#111" stroke-width="1.05"/>
<circle cx="486.65" cy="307.40" r="1.3" fill="none" stroke="#111" stroke-width="1.05"/>
<circle cx="486.65" cy="315.30" r="1.3" fill="none" stroke="#111" stroke-width="1.05"/>
<circle cx="486.65" cy="319.00" r="1.3" fill="none" stroke="#111" stroke-width="1.05"/>
<line x1="504.95" y1="298.70" x2="504.95" y2="306.30" stroke="#111" stroke-width="0.8"/>
<line x1="504.95" y1="312.50" x2="504.95" y2="318.80" stroke="#111" stroke-width="0.8"/>
<rect x="496.50" y="306.30" width="16.90" height="6.20" fill="#c9c9c9" stroke="#111" stroke-width="0.8"/>
<line x1="496.50" y1="311.80" x2="513.40" y2="311.80" stroke="#111" stroke-width="1.5"/>
<circle cx="504.95" cy="293.60" r="1.3" fill="none" stroke="#111" stroke-width="1.05"/>
<circle cx="504.95" cy="294.90" r="1.3" fill="none" stroke="#111" stroke-width="1.05"/>
<line x1="527.35" y1="292.80" x2="527.35" y2="303.50" stroke="#111" stroke-width="0.8"/>
<line x1="527.35" y1="311.40" x2="527.35" y2="318.80" stroke="#111" stroke-width="0.8"/>
<rect x="519.00" y="303.50" width="16.70" height="7.90" fill="#f3e0c8" stroke="#111" stroke-width="0.8"/>
<line x1="519.00" y1="306.60" x2="535.70" y2="306.60" stroke="#111" stroke-width="1.5"/>
<circle cx="527.35" cy="279.40" r="1.3" fill="none" stroke="#111" stroke-width="1.05"/>
<circle cx="527.35" cy="290.60" r="1.3" fill="none" stroke="#111" stroke-width="1.05"/>
<line x1="545.75" y1="292.10" x2="545.75" y2="303.50" stroke="#111" stroke-width="0.8"/>
<line x1="545.75" y1="311.40" x2="545.75" y2="318.80" stroke="#111" stroke-width="0.8"/>
<rect x="537.40" y="303.50" width="16.70" height="7.90" fill="#c9c9c9" stroke="#111" stroke-width="0.8"/>
<line x1="537.40" y1="307.40" x2="554.10" y2="307.40" stroke="#111" stroke-width="1.5"/>
<circle cx="545.75" cy="279.20" r="1.3" fill="none" stroke="#111" stroke-width="1.05"/>
<circle cx="545.75" cy="281.80" r="1.3" fill="none" stroke="#111" stroke-width="1.05"/>
<circle cx="545.75" cy="289.00" r="1.3" fill="none" stroke="#111" stroke-width="1.05"/>
<circle cx="545.75" cy="290.30" r="1.3" fill="none" stroke="#111" stroke-width="1.05"/>
<line x1="568.15" y1="290.80" x2="568.15" y2="299.30" stroke="#111" stroke-width="0.8"/>
<rect x="559.70" y="299.30" width="16.90" height="20.00" fill="#f3e0c8" stroke="#111" stroke-width="0.8"/>
<line x1="559.70" y1="318.90" x2="576.60" y2="318.90" stroke="#111" stroke-width="1.5"/>
<line x1="586.60" y1="279.00" x2="586.60" y2="298.50" stroke="#111" stroke-width="0.8"/>
<rect x="578.40" y="298.50" width="16.40" height="20.80" fill="#c9c9c9" stroke="#111" stroke-width="0.8"/>
<line x1="578.40" y1="318.90" x2="594.80" y2="318.90" stroke="#111" stroke-width="1.5"/>
<line x1="608.70" y1="291.00" x2="608.70" y2="302.40" stroke="#111" stroke-width="0.8"/>
<line x1="608.70" y1="311.20" x2="608.70" y2="318.80" stroke="#111" stroke-width="0.8"/>
<rect x="600.30" y="302.40" width="16.80" height="8.80" fill="#f3e0c8" stroke="#111" stroke-width="0.8"/>
<line x1="600.30" y1="306.60" x2="617.10" y2="306.60" stroke="#111" stroke-width="1.5"/>
<circle cx="608.70" cy="230.60" r="1.3" fill="none" stroke="#111" stroke-width="1.05"/>
<circle cx="608.70" cy="232.60" r="1.3" fill="none" stroke="#111" stroke-width="1.05"/>
<circle cx="608.70" cy="234.60" r="1.3" fill="none" stroke="#111" stroke-width="1.05"/>
<circle cx="608.70" cy="236.60" r="1.3" fill="none" stroke="#111" stroke-width="1.05"/>
<circle cx="608.70" cy="238.60" r="1.3" fill="none" stroke="#111" stroke-width="1.05"/>
<circle cx="608.70" cy="240.60" r="1.3" fill="none" stroke="#111" stroke-width="1.05"/>
<circle cx="608.70" cy="242.60" r="1.3" fill="none" stroke="#111" stroke-width="1.05"/>
<circle cx="608.70" cy="244.60" r="1.3" fill="none" stroke="#111" stroke-width="1.05"/>
<circle cx="608.70" cy="246.60" r="1.3" fill="none" stroke="#111" stroke-width="1.05"/>
<circle cx="608.70" cy="248.60" r="1.3" fill="none" stroke="#111" stroke-width="1.05"/>
<circle cx="608.70" cy="254.60" r="1.3" fill="none" stroke="#111" stroke-width="1.05"/>
<circle cx="608.70" cy="256.60" r="1.3" fill="none" stroke="#111" stroke-width="1.05"/>
<circle cx="608.70" cy="260.60" r="1.3" fill="none" stroke="#111" stroke-width="1.05"/>
<circle cx="608.70" cy="262.60" r="1.3" fill="none" stroke="#111" stroke-width="1.05"/>
<circle cx="608.70" cy="264.60" r="1.3" fill="none" stroke="#111" stroke-width="1.05"/>
<circle cx="608.70" cy="266.60" r="1.3" fill="none" stroke="#111" stroke-width="1.05"/>
<circle cx="608.70" cy="270.60" r="1.3" fill="none" stroke="#111" stroke-width="1.05"/>
<circle cx="608.70" cy="272.60" r="1.3" fill="none" stroke="#111" stroke-width="1.05"/>
<circle cx="608.70" cy="274.60" r="1.3" fill="none" stroke="#111" stroke-width="1.05"/>
<circle cx="608.70" cy="276.60" r="1.3" fill="none" stroke="#111" stroke-width="1.05"/>
<circle cx="608.70" cy="282.60" r="1.3" fill="none" stroke="#111" stroke-width="1.05"/>
<circle cx="608.70" cy="284.60" r="1.3" fill="none" stroke="#111" stroke-width="1.05"/>
<circle cx="608.70" cy="286.60" r="1.3" fill="none" stroke="#111" stroke-width="1.05"/>
<circle cx="608.70" cy="288.60" r="1.3" fill="none" stroke="#111" stroke-width="1.05"/>
<line x1="627.30" y1="289.30" x2="627.30" y2="301.70" stroke="#111" stroke-width="0.8"/>
<line x1="627.30" y1="311.20" x2="627.30" y2="318.80" stroke="#111" stroke-width="0.8"/>
<rect x="618.90" y="301.70" width="16.80" height="9.50" fill="#c9c9c9" stroke="#111" stroke-width="0.8"/>
<line x1="618.90" y1="305.90" x2="635.70" y2="305.90" stroke="#111" stroke-width="1.5"/>
<circle cx="627.30" cy="230.60" r="1.3" fill="none" stroke="#111" stroke-width="1.05"/>
<circle cx="627.30" cy="232.60" r="1.3" fill="none" stroke="#111" stroke-width="1.05"/>
<circle cx="627.30" cy="238.60" r="1.3" fill="none" stroke="#111" stroke-width="1.05"/>
<circle cx="627.30" cy="240.60" r="1.3" fill="none" stroke="#111" stroke-width="1.05"/>
<circle cx="627.30" cy="242.60" r="1.3" fill="none" stroke="#111" stroke-width="1.05"/>
<circle cx="627.30" cy="244.60" r="1.3" fill="none" stroke="#111" stroke-width="1.05"/>
<circle cx="627.30" cy="246.60" r="1.3" fill="none" stroke="#111" stroke-width="1.05"/>
<circle cx="627.30" cy="248.60" r="1.3" fill="none" stroke="#111" stroke-width="1.05"/>
<circle cx="627.30" cy="254.60" r="1.3" fill="none" stroke="#111" stroke-width="1.05"/>
<circle cx="627.30" cy="256.60" r="1.3" fill="none" stroke="#111" stroke-width="1.05"/>
<circle cx="627.30" cy="258.60" r="1.3" fill="none" stroke="#111" stroke-width="1.05"/>
<circle cx="627.30" cy="260.60" r="1.3" fill="none" stroke="#111" stroke-width="1.05"/>
<circle cx="627.30" cy="262.60" r="1.3" fill="none" stroke="#111" stroke-width="1.05"/>
<circle cx="627.30" cy="264.60" r="1.3" fill="none" stroke="#111" stroke-width="1.05"/>
<circle cx="627.30" cy="268.60" r="1.3" fill="none" stroke="#111" stroke-width="1.05"/>
<circle cx="627.30" cy="272.60" r="1.3" fill="none" stroke="#111" stroke-width="1.05"/>
<circle cx="627.30" cy="274.60" r="1.3" fill="none" stroke="#111" stroke-width="1.05"/>
<circle cx="627.30" cy="276.60" r="1.3" fill="none" stroke="#111" stroke-width="1.05"/>
<circle cx="627.30" cy="278.60" r="1.3" fill="none" stroke="#111" stroke-width="1.05"/>
<circle cx="627.30" cy="280.60" r="1.3" fill="none" stroke="#111" stroke-width="1.05"/>
<circle cx="627.30" cy="282.60" r="1.3" fill="none" stroke="#111" stroke-width="1.05"/>
<circle cx="627.30" cy="284.60" r="1.3" fill="none" stroke="#111" stroke-width="1.05"/>
<circle cx="627.30" cy="286.60" r="1.3" fill="none" stroke="#111" stroke-width="1.05"/>
<line x1="649.50" y1="304.60" x2="649.50" y2="307.00" stroke="#111" stroke-width="0.8"/>
<rect x="641.20" y="307.00" width="16.60" height="3.10" fill="#f3e0c8" stroke="#111" stroke-width="0.8"/>
<line x1="641.20" y1="309.60" x2="657.80" y2="309.60" stroke="#111" stroke-width="1.0"/>
<circle cx="649.50" cy="279.40" r="1.3" fill="none" stroke="#111" stroke-width="1.05"/>
<circle cx="649.50" cy="319.00" r="1.3" fill="none" stroke="#111" stroke-width="1.05"/>
<line x1="667.90" y1="303.70" x2="667.90" y2="305.90" stroke="#111" stroke-width="0.8"/>
<line x1="667.90" y1="310.70" x2="667.90" y2="312.50" stroke="#111" stroke-width="0.8"/>
<rect x="659.40" y="305.90" width="17.00" height="4.80" fill="#c9c9c9" stroke="#111" stroke-width="0.8"/>
<line x1="659.40" y1="307.40" x2="676.40" y2="307.40" stroke="#111" stroke-width="1.5"/>
<circle cx="667.90" cy="270.20" r="1.3" fill="none" stroke="#111" stroke-width="1.05"/>
<circle cx="667.90" cy="276.60" r="1.3" fill="none" stroke="#111" stroke-width="1.05"/>
<circle cx="667.90" cy="296.00" r="1.3" fill="none" stroke="#111" stroke-width="1.05"/>
<circle cx="667.90" cy="319.00" r="1.3" fill="none" stroke="#111" stroke-width="1.05"/>
<path d="M448.5,264.4 L448.5,262.6 L461.4,262.6 L461.4,264.4" fill="none" stroke="#555" stroke-width="0.7"/>
<text transform="translate(456.25 259.60) scale(0.94 1)" text-anchor="middle">0.012</text>
<path d="M489.3,278.4 L489.3,276.6 L502.2,276.6 L502.2,278.4" fill="none" stroke="#555" stroke-width="0.7"/>
<text transform="translate(497.05 273.60) scale(0.94 1)" text-anchor="middle">0.002</text>
<line x1="267.80" y1="222.50" x2="267.80" y2="324.50" stroke="#7c7c7c" stroke-width="0.9"/>
<line x1="267.40" y1="324.00" x2="683.00" y2="324.00" stroke="#a6a6a6" stroke-width="1.2"/>
<line x1="263.90" y1="223.40" x2="267.80" y2="223.40" stroke="#666" stroke-width="0.8"/>
<text transform="translate(260.60 226.30) scale(0.97 1)" text-anchor="end">6</text>
<line x1="263.90" y1="241.00" x2="267.80" y2="241.00" stroke="#666" stroke-width="0.8"/>
<text transform="translate(260.60 243.90) scale(0.97 1)" text-anchor="end">4</text>
<line x1="263.90" y1="263.70" x2="267.80" y2="263.70" stroke="#666" stroke-width="0.8"/>
<text transform="translate(260.60 266.60) scale(0.97 1)" text-anchor="end">2</text>
<line x1="263.90" y1="319.30" x2="267.80" y2="319.30" stroke="#666" stroke-width="0.8"/>
<text transform="translate(260.60 322.20) scale(0.97 1)" text-anchor="end">0</text>
<text transform="translate(249.80 273.30) rotate(-90) scale(0.94 1)" text-anchor="middle">dN/dS</text>
<line x1="292.30" y1="324.00" x2="292.30" y2="328.00" stroke="#777" stroke-width="0.8"/>
<text transform="translate(296.40 334.40) rotate(-45) scale(0.94 1)" text-anchor="end">Head and</text>
<text transform="translate(303.00 341.00) rotate(-45) scale(0.94 1)" text-anchor="end">packaging</text>
<line x1="332.96" y1="324.00" x2="332.96" y2="328.00" stroke="#777" stroke-width="0.8"/>
<text transform="translate(337.10 334.60) rotate(-45) scale(0.94 1)" text-anchor="end">Connector</text>
<line x1="373.62" y1="324.00" x2="373.62" y2="328.00" stroke="#777" stroke-width="0.8"/>
<text transform="translate(377.40 334.60) rotate(-45) scale(0.94 1)" text-anchor="end">Lysis</text>
<line x1="414.28" y1="324.00" x2="414.28" y2="328.00" stroke="#777" stroke-width="0.8"/>
<text transform="translate(417.70 334.60) rotate(-45) scale(0.94 1)" text-anchor="end">Tail</text>
<line x1="454.94" y1="324.00" x2="454.94" y2="328.00" stroke="#777" stroke-width="0.8"/>
<text transform="translate(458.00 334.60) rotate(-45) scale(0.94 1)" text-anchor="end">Other</text>
<line x1="495.60" y1="324.00" x2="495.60" y2="328.00" stroke="#777" stroke-width="0.8"/>
<text transform="translate(497.90 334.40) rotate(-45) scale(0.94 1)" text-anchor="end">Integration</text>
<text transform="translate(504.50 341.00) rotate(-45) scale(0.94 1)" text-anchor="end">and excision</text>
<line x1="536.26" y1="324.00" x2="536.26" y2="328.00" stroke="#777" stroke-width="0.8"/>
<text transform="translate(538.20 334.40) rotate(-45) scale(0.94 1)" text-anchor="end">Nucleotide</text>
<text transform="translate(544.80 341.00) rotate(-45) scale(0.94 1)" text-anchor="end">metabolism</text>
<line x1="576.92" y1="324.00" x2="576.92" y2="328.00" stroke="#777" stroke-width="0.8"/>
<text transform="translate(578.50 334.40) rotate(-45) scale(0.94 1)" text-anchor="end">Transcription</text>
<text transform="translate(585.10 341.00) rotate(-45) scale(0.94 1)" text-anchor="end">regulation</text>
<line x1="617.58" y1="324.00" x2="617.58" y2="328.00" stroke="#777" stroke-width="0.8"/>
<text transform="translate(618.80 334.40) rotate(-45) scale(0.94 1)" text-anchor="end">Unknown and</text>
<text transform="translate(625.40 341.00) rotate(-45) scale(0.94 1)" text-anchor="end">non-PHROG</text>
<line x1="658.24" y1="324.00" x2="658.24" y2="328.00" stroke="#777" stroke-width="0.8"/>
<text transform="translate(659.10 334.40) rotate(-45) scale(0.94 1)" text-anchor="end">Accessory</text>
<text transform="translate(665.70 341.00) rotate(-45) scale(0.94 1)" text-anchor="end">genes</text>
</g>
<g id="panel-e">
<text transform="translate(0.00 406.40)" font-weight="bold" style="stroke:#000;stroke-width:0.3px" font-size="11.2" fill="#000">e</text>
<line x1="40.20" y1="407.20" x2="40.20" y2="523.10" stroke="#a6a6a6" stroke-width="1.2"/>
<line x1="39.60" y1="522.60" x2="201.70" y2="522.60" stroke="#a6a6a6" stroke-width="1.1"/>
<line x1="41.30" y1="525.40" x2="113.80" y2="525.40" stroke="#999" stroke-width="0.9"/>
<line x1="129.00" y1="525.40" x2="201.70" y2="525.40" stroke="#999" stroke-width="0.9"/>
<line x1="36.60" y1="419.40" x2="40.20" y2="419.40" stroke="#555" stroke-width="0.8"/>
<text transform="translate(33.20 422.10) scale(0.97 1)" text-anchor="end">10<tspan font-size="5.4" dy="-3.7">−3</tspan></text>
<line x1="36.60" y1="446.60" x2="40.20" y2="446.60" stroke="#555" stroke-width="0.8"/>
<text transform="translate(33.20 449.30) scale(0.97 1)" text-anchor="end">10<tspan font-size="5.4" dy="-3.7">−4</tspan></text>
<line x1="36.60" y1="473.90" x2="40.20" y2="473.90" stroke="#555" stroke-width="0.8"/>
<text transform="translate(33.20 476.60) scale(0.97 1)" text-anchor="end">10<tspan font-size="5.4" dy="-3.7">−5</tspan></text>
<line x1="36.60" y1="501.30" x2="40.20" y2="501.30" stroke="#555" stroke-width="0.8"/>
<text transform="translate(33.20 504.00) scale(0.97 1)" text-anchor="end">10<tspan font-size="5.4" dy="-3.7">−6</tspan></text>
<text transform="translate(11.60 464.80) rotate(-90) scale(0.94 1)" text-anchor="middle">Concentration (ng µl<tspan font-size="5.8" dy="-3.9">−1</tspan><tspan dy="3.9">)</tspan></text>
<text transform="translate(77.50 535.80) scale(0.94 1)" text-anchor="middle">Stevia</text>
<text transform="translate(165.60 535.80) scale(0.94 1)" text-anchor="middle">Hydrogen peroxide</text>
<rect x="60.60" y="414.10" width="11.00" height="1.80" fill="#111" stroke="#111" stroke-width="1.0"/>
<circle cx="63.30" cy="415.00" r="1.3" fill="#e0877b" stroke="#111" stroke-width="1.1"/>
<circle cx="66.10" cy="415.00" r="1.3" fill="#e0877b" stroke="#111" stroke-width="1.1"/>
<circle cx="68.90" cy="415.00" r="1.3" fill="#e0877b" stroke="#111" stroke-width="1.1"/>
<rect x="84.20" y="509.40" width="10.20" height="1.80" fill="#111" stroke="#111" stroke-width="1.0"/>
<circle cx="86.50" cy="510.30" r="1.3" fill="#7fb4c2" stroke="#111" stroke-width="1.1"/>
<circle cx="89.30" cy="510.30" r="1.3" fill="#7fb4c2" stroke="#111" stroke-width="1.1"/>
<circle cx="92.10" cy="510.30" r="1.3" fill="#7fb4c2" stroke="#111" stroke-width="1.1"/>
<line x1="153.60" y1="444.70" x2="153.60" y2="448.20" stroke="#111" stroke-width="0.8"/>
<rect x="148.40" y="438.00" width="10.60" height="6.70" fill="#e0877b" stroke="#111" stroke-width="0.9"/>
<line x1="148.40" y1="438.60" x2="159.00" y2="438.60" stroke="#111" stroke-width="1.4"/>
<circle cx="152.50" cy="438.00" r="1.35" fill="#e0877b" stroke="#111" stroke-width="1.2"/>
<circle cx="155.00" cy="438.00" r="1.35" fill="#e0877b" stroke="#111" stroke-width="1.2"/>
<circle cx="153.60" cy="449.50" r="1.4" fill="#e0877b" stroke="#111" stroke-width="1.3"/>
<line x1="176.90" y1="513.70" x2="176.90" y2="515.20" stroke="#111" stroke-width="0.8"/>
<rect x="171.50" y="509.20" width="11.00" height="4.40" fill="#7fb4c2" stroke="#111" stroke-width="0.9"/>
<line x1="171.50" y1="511.00" x2="182.50" y2="511.00" stroke="#111" stroke-width="1.4"/>
<circle cx="175.60" cy="509.40" r="1.3" fill="#7fb4c2" stroke="#111" stroke-width="1.2"/>
<circle cx="178.20" cy="509.40" r="1.3" fill="#7fb4c2" stroke="#111" stroke-width="1.2"/>
<circle cx="176.80" cy="516.30" r="1.4" fill="#7fb4c2" stroke="#111" stroke-width="1.3"/>
<line x1="16.10" y1="554.30" x2="16.10" y2="565.60" stroke="#111" stroke-width="0.9"/>
<rect x="10.30" y="555.80" width="11.60" height="8.40" fill="#e0877b" stroke="#111" stroke-width="0.9"/>
<line x1="10.30" y1="560.00" x2="21.90" y2="560.00" stroke="#111" stroke-width="1.4"/>
<circle cx="16.10" cy="560.00" r="2.8" fill="#e0877b" stroke="#111" stroke-width="1.5"/>
<text transform="translate(26.60 562.90) scale(0.94 1)" textLength="73.62">CC01414 ΦPomma</text>
<line x1="122.30" y1="555.60" x2="122.30" y2="566.90" stroke="#111" stroke-width="0.9"/>
<rect x="116.50" y="557.10" width="11.60" height="8.40" fill="#7fb4c2" stroke="#111" stroke-width="0.9"/>
<line x1="116.50" y1="561.30" x2="128.10" y2="561.30" stroke="#111" stroke-width="1.4"/>
<circle cx="122.30" cy="561.30" r="2.8" fill="#7fb4c2" stroke="#111" stroke-width="1.5"/>
<text transform="translate(133.10 562.00) scale(0.94 1)" textLength="73.40">CC01414 ΦPomma</text>
<text transform="translate(167.30 569.80) scale(0.94 1)" text-anchor="middle">Δ<tspan font-style="italic">tran</tspan></text>
</g>
<g id="panel-f">
<text transform="translate(211.20 405.50)" font-weight="bold" style="stroke:#000;stroke-width:0.3px" font-size="11.2" fill="#000">f</text>
<clipPath id="fclip"><rect x="244.6" y="406" width="392" height="103.2"/></clipPath>
<g clip-path="url(#fclip)" fill="none" stroke-linejoin="round" stroke-linecap="butt">
<path d="M258.80,461.00 L262.50,464.80 L266.80,468.30 L271.50,466.20 L276.30,465.00 L279.50,465.60 L282.80,465.70 L287.50,460.50 L292.30,455.50 L295.20,457.20 L298.20,458.40 L303.50,459.20 L308.40,459.60 L309.90,448.20 L311.00,438.00 L312.00,429.20 L314.20,425.10 L320.00,423.40 L327.40,423.40 L337.60,424.10 L350.00,425.10 L360.40,426.20 L370.70,424.10 L378.80,420.40 L389.00,421.70 L399.30,422.90 L409.50,423.90 L425.80,421.90 L434.00,422.70 L446.30,421.90 L462.60,422.10 L468.80,423.10 L480.00,422.90 L496.60,422.90 L508.80,420.40 L519.00,421.50 L527.20,422.50 L533.40,421.00 L547.70,422.10 L560.00,422.10 L565.00,421.50 L568.10,424.50 L569.60,432.00 L570.80,444.00 L571.90,454.00 L573.40,450.40 L575.20,454.00 L577.00,457.00 L580.70,455.50 L585.80,461.30 L593.80,462.00 L602.60,460.60 L608.50,462.00 L614.20,463.50 L621.50,461.30" stroke="#d8786d" stroke-width="2.1" stroke-dasharray="5.5 4.4"/>
<path d="M258.80,482.50 L261.00,489.80 L264.60,496.40 L267.20,484.70 L270.40,496.40 L273.60,481.00 L277.00,501.50 L280.00,489.80 L283.30,507.30 L285.80,497.10 L289.40,507.60 L293.80,505.10 L299.60,500.00 L307.70,493.50 L308.70,479.60 L309.60,455.00 L311.00,421.20 L312.10,417.00 L314.20,413.40 L323.00,412.00 L335.00,411.90 L350.00,411.70 L356.00,412.20 L360.40,413.10 L368.00,412.00 L376.80,411.20 L390.00,411.90 L403.40,410.60 L411.50,412.70 L425.00,412.00 L444.20,412.70 L450.40,410.80 L465.00,411.80 L480.00,411.50 L500.00,411.90 L515.00,411.30 L530.00,412.20 L545.00,411.60 L560.00,411.90 L566.00,411.70 L567.60,414.20 L569.00,418.20 L570.40,432.10 L571.90,448.20 L573.00,451.10 L575.50,456.50 L577.70,461.30 L579.20,470.00 L581.80,484.00 L583.30,497.00 L584.70,507.60 L587.60,494.00 L590.60,482.50 L594.20,484.00 L597.90,489.10 L603.00,486.20 L606.60,496.40 L609.60,487.60 L616.10,492.70 L622.00,488.40" stroke="#d8786d" stroke-width="2.1"/>
<path d="M258.80,507.60 L263.10,505.90 L268.20,503.00 L270.40,499.30 L274.80,503.00 L279.20,507.30 L286.50,503.00 L292.30,491.30 L296.00,503.00 L300.40,494.20 L304.70,491.30 L309.90,498.60 L315.00,489.80 L318.60,487.60 L323.00,497.10 L325.90,504.40 L330.30,497.10 L334.00,507.30 L337.60,496.40 L342.00,501.50 L345.00,501.00 L354.60,507.30 L356.80,494.20 L359.00,485.40 L364.00,501.50 L367.00,505.90 L372.80,500.00 L378.00,497.80 L383.80,496.40 L388.20,503.00 L391.00,491.30 L394.70,500.00 L399.00,485.40 L402.80,499.30 L407.20,507.30 L413.00,504.40 L414.50,489.80 L418.80,479.60 L423.20,507.30 L424.70,486.90 L429.00,501.50 L433.40,500.00 L436.40,485.40 L438.80,507.30 L443.10,489.80 L448.20,484.00 L452.60,495.70 L454.00,504.40 L454.10,479.60 L457.70,485.40 L461.40,495.70 L465.80,484.00 L470.10,491.30 L473.00,507.30 L476.70,494.20 L481.00,494.20 L485.20,503.70 L485.50,484.70 L491.30,489.80 L497.20,505.90 L501.50,504.40 L506.00,494.20 L509.60,476.70 L511.80,470.80 L516.10,471.60 L519.00,484.00 L522.00,489.10 L526.40,491.30 L532.20,494.20 L537.30,482.50 L543.10,479.60 L548.20,479.60 L549.70,504.40 L551.20,488.40 L554.80,494.20 L559.20,489.80 L562.80,507.30 L566.50,494.20 L571.60,484.00 L573.00,505.90 L576.70,492.70 L581.00,491.30 L584.70,503.00 L589.10,496.40 L593.50,504.40 L597.20,491.30 L601.50,496.40 L606.00,503.00 L610.00,507.30 L614.00,498.60 L618.30,504.40 L622.00,496.40" stroke="#7aabb9" stroke-width="2.1" stroke-dasharray="5.5 4.4"/>
<path d="M258.80,496.40 L261.70,482.50 L267.50,492.00 L271.20,486.90 L277.00,506.60 L281.40,498.60 L286.50,484.70 L291.60,497.10 L295.30,507.30 L298.90,486.90 L304.70,492.00 L312.00,506.60 L320.80,480.30 L326.60,507.30 L333.20,487.60 L339.00,492.00 L344.90,507.30 L351.00,498.60 L355.00,481.00 L360.40,492.00 L367.00,507.30 L373.60,483.20 L376.50,496.40 L380.10,503.70 L386.00,490.50 L388.90,495.70 L392.60,486.90 L396.20,491.30 L398.40,503.70 L401.30,485.40 L404.20,492.70 L407.90,507.60 L413.00,488.40 L416.60,484.00 L420.00,475.20 L424.00,484.00 L426.10,489.10 L429.80,484.70 L434.40,492.70 L438.80,496.40 L443.10,489.80 L447.50,483.20 L452.60,493.50 L455.50,486.90 L460.00,486.90 L464.30,484.00 L467.20,488.40 L470.10,503.00 L473.80,497.80 L476.40,507.60 L478.90,486.90 L483.30,492.00 L488.40,496.40 L492.00,493.50 L496.40,496.40 L500.80,493.50 L504.50,497.80 L506.60,507.60 L510.30,476.00 L513.20,471.60 L516.90,473.00 L520.50,485.40 L525.60,507.30 L530.00,489.80 L533.60,481.00 L538.00,470.10 L541.40,496.40 L544.60,482.50 L547.50,474.50 L550.40,483.20 L556.30,483.20 L560.00,487.60 L562.80,484.00 L567.20,492.70 L570.10,494.20 L572.30,484.00 L575.30,487.60 L579.60,485.40 L584.70,481.80 L589.90,489.10 L594.20,496.40 L597.20,507.30 L600.00,492.70 L606.00,503.70 L609.60,489.80 L613.20,503.00 L622.00,491.30" stroke="#7aabb9" stroke-width="2.1"/>
<path d="M592.80,502.20 L598.60,496.40 L603.00,501.50 L607.40,503.70 L611.80,496.40 L616.00,500.00 L622.00,495.00" stroke="#7aabb9" stroke-width="2.1"/>
</g>
<line x1="244.20" y1="408.30" x2="244.20" y2="509.90" stroke="#5e5e5e" stroke-width="0.8"/>
<line x1="243.80" y1="509.50" x2="634.00" y2="509.50" stroke="#5e5e5e" stroke-width="0.8"/>
<line x1="240.20" y1="416.30" x2="244.20" y2="416.30" stroke="#555" stroke-width="0.8"/>
<text transform="translate(237.30 419.40) scale(0.97 1)" text-anchor="end">10<tspan font-size="5.4" dy="-3.6">4</tspan></text>
<line x1="240.20" y1="438.40" x2="244.20" y2="438.40" stroke="#555" stroke-width="0.8"/>
<text transform="translate(237.30 441.50) scale(0.97 1)" text-anchor="end">10<tspan font-size="5.4" dy="-3.6">3</tspan></text>
<line x1="240.20" y1="460.50" x2="244.20" y2="460.50" stroke="#555" stroke-width="0.8"/>
<text transform="translate(237.30 463.60) scale(0.97 1)" text-anchor="end">10<tspan font-size="5.4" dy="-3.6">2</tspan></text>
<line x1="240.20" y1="482.80" x2="244.20" y2="482.80" stroke="#555" stroke-width="0.8"/>
<text transform="translate(237.30 485.90) scale(0.97 1)" text-anchor="end">10<tspan font-size="5.4" dy="-3.6">1</tspan></text>
<line x1="240.20" y1="505.00" x2="244.20" y2="505.00" stroke="#555" stroke-width="0.8"/>
<text transform="translate(236.40 508.00) scale(0.97 1)" text-anchor="end">1</text>
<line x1="265.50" y1="509.50" x2="265.50" y2="513.40" stroke="#555" stroke-width="0.8"/>
<text transform="translate(265.50 523.30)" text-anchor="middle" textLength="26.40">860000</text>
<line x1="386.00" y1="509.50" x2="386.00" y2="513.40" stroke="#555" stroke-width="0.8"/>
<text transform="translate(386.00 523.30)" text-anchor="middle" textLength="26.40">880000</text>
<line x1="506.90" y1="509.50" x2="506.90" y2="513.40" stroke="#555" stroke-width="0.8"/>
<text transform="translate(506.90 523.30)" text-anchor="middle" textLength="26.40">900000</text>
<line x1="627.20" y1="509.50" x2="627.20" y2="513.40" stroke="#555" stroke-width="0.8"/>
<text transform="translate(627.20 523.30)" text-anchor="middle" textLength="26.40">920000</text>
<text transform="translate(218.20 459.00) rotate(-90) scale(0.94 1)" text-anchor="middle">Read coverage</text>
<line x1="578.80" y1="398.60" x2="587.00" y2="398.60" stroke="#d8786d" stroke-width="0.9"/>
<text transform="translate(590.40 401.70) scale(0.94 1)" textLength="100.74">CC01414 ΦPomma, Stevia</text>
<line x1="578.80" y1="407.80" x2="587.00" y2="407.80" stroke="#d8786d" stroke-width="0.9" stroke-dasharray="3.2 1.8"/>
<text transform="translate(590.40 410.60) scale(0.94 1)" textLength="75.43">CC01414 ΦPomma,</text>
<text transform="translate(590.40 419.50) scale(0.94 1)">hydrogen peroxide</text>
<line x1="578.80" y1="426.70" x2="587.00" y2="426.70" stroke="#7aabb9" stroke-width="0.9"/>
<text transform="translate(590.40 429.50) scale(0.94 1)" textLength="97.23">CC01414 ΦPomma Δ<tspan font-style="italic">tran</tspan>,</text>
<text transform="translate(590.40 437.60) scale(0.94 1)">Stevia</text>
<line x1="578.80" y1="443.20" x2="587.00" y2="443.20" stroke="#7aabb9" stroke-width="0.9" stroke-dasharray="3.2 1.8"/>
<text transform="translate(590.40 446.00) scale(0.94 1)" textLength="97.23">CC01414 ΦPomma Δ<tspan font-style="italic">tran</tspan>,</text>
<text transform="translate(590.40 454.50) scale(0.94 1)">hydrogen peroxide</text>
<line x1="313.00" y1="533.30" x2="331.80" y2="533.30" stroke="#111" stroke-width="0.8"/>
<path d="M310.60,529.30 L311.00,529.30 L313.20,533.30 L311.00,537.30 L310.60,537.30 Z" fill="#c8c800" stroke="#222" stroke-width="0.8" stroke-linejoin="round"/>
<path d="M314.6,531.7 L316.4,533.3 L314.6,534.9 Z M318.4,531.7 L316.6,533.3 L318.4,534.9 Z" fill="#111" stroke="#111" stroke-width="0.5"/>
<path d="M324.40,529.30 L320.90,529.30 L319.30,533.30 L320.90,537.30 L324.40,537.30 Z" fill="#a64df2" stroke="#222" stroke-width="0.8" stroke-linejoin="round"/>
<path d="M325.6,533.3 L327.0,530.3 L328.3,533.3 L327.0,536.3 Z" fill="#4a4a4a" stroke="#111" stroke-width="0.7" stroke-linejoin="round"/>
<path d="M328.3,533.3 L329.9,530.3 L331.4,533.3 L329.9,536.3 Z" fill="#4a4a4a" stroke="#111" stroke-width="0.7" stroke-linejoin="round"/>
<path d="M331.80,529.30 L343.50,529.30 L344.90,533.30 L343.50,537.30 L331.80,537.30 Z" fill="#ff9a00" stroke="#222" stroke-width="0.8" stroke-linejoin="round"/>
<path d="M345.40,529.30 L349.60,529.30 L351.20,533.30 L349.60,537.30 L345.40,537.30 Z" fill="#ff9a00" stroke="#222" stroke-width="0.8" stroke-linejoin="round"/>
<rect x="351.20" y="529.30" width="4.20" height="8.00" fill="#4a4a4a" stroke="#222" stroke-width="0.8" rx="1.60" ry="2.20"/>
<rect x="355.70" y="529.30" width="2.30" height="8.00" fill="#cfcfcf" stroke="#222" stroke-width="0.8" rx="0.97" ry="2.20"/>
<rect x="358.30" y="529.30" width="4.60" height="8.00" fill="#cfcfcf" stroke="#222" stroke-width="0.8" rx="1.60" ry="2.20"/>
<rect x="363.60" y="529.30" width="1.90" height="8.00" fill="#f0708f" stroke="#222" stroke-width="0.8" rx="0.80" ry="2.20"/>
<line x1="365.50" y1="533.30" x2="380.40" y2="533.30" stroke="#111" stroke-width="0.7"/>
<path d="M365.8,533.3 L367.4,530.3 L369.0,533.3 L367.4,536.3 Z" fill="#4a4a4a" stroke="#111" stroke-width="0.7" stroke-linejoin="round"/>
<rect x="369.90" y="529.30" width="2.50" height="8.00" fill="#c8c800" stroke="#222" stroke-width="0.8" rx="1.05" ry="2.20"/>
<path d="M372.9,533.3 L374.6,530.3 L376.3,533.3 L374.6,536.3 Z" fill="#4a4a4a" stroke="#111" stroke-width="0.7" stroke-linejoin="round"/>
<path d="M376.3,533.3 L378.1,530.3 L379.8,533.3 L378.1,536.3 Z" fill="#4a4a4a" stroke="#111" stroke-width="0.7" stroke-linejoin="round"/>
<rect x="380.40" y="529.30" width="4.30" height="8.00" fill="#cfcfcf" stroke="#222" stroke-width="0.8" rx="1.60" ry="2.20"/>
<line x1="384.70" y1="533.30" x2="389.20" y2="533.30" stroke="#111" stroke-width="0.7"/>
<path d="M385.6,533.3 L387.0,530.9 L388.4,533.3 L387.0,535.7 Z" fill="#4a4a4a" stroke="#111" stroke-width="0.7" stroke-linejoin="round"/>
<rect x="389.20" y="529.30" width="2.80" height="8.00" fill="#cfcfcf" stroke="#222" stroke-width="0.8" rx="1.18" ry="2.20"/>
<rect x="392.60" y="529.30" width="3.00" height="8.00" fill="#7ab4e6" stroke="#222" stroke-width="0.8" rx="1.26" ry="2.20"/>
<rect x="397.00" y="529.30" width="14.90" height="8.00" fill="#cfcfcf" stroke="#222" stroke-width="0.8" rx="1.60" ry="2.20"/>
<rect x="412.60" y="529.30" width="2.40" height="8.00" fill="#cfcfcf" stroke="#222" stroke-width="0.8" rx="1.01" ry="2.20"/>
<rect x="415.40" y="529.30" width="9.60" height="8.00" fill="#3b5998" stroke="#222" stroke-width="0.8" rx="1.60" ry="2.20"/>
<path d="M427.90,529.30 L426.40,529.30 L425.00,533.30 L426.40,537.30 L427.90,537.30 Z" fill="#e4e400" stroke="#222" stroke-width="0.8" stroke-linejoin="round"/>
<rect x="428.20" y="529.30" width="7.30" height="8.00" fill="#3b5998" stroke="#222" stroke-width="0.8" rx="1.60" ry="2.20"/>
<rect x="435.70" y="529.30" width="5.50" height="8.00" fill="#cfcfcf" stroke="#222" stroke-width="0.8" rx="1.60" ry="2.20"/>
<rect x="441.60" y="529.30" width="6.70" height="8.00" fill="#8fd9c9" stroke="#222" stroke-width="0.8" rx="1.60" ry="2.20"/>
<rect x="448.90" y="529.30" width="2.70" height="8.00" fill="#8fd9c9" stroke="#222" stroke-width="0.8" rx="1.13" ry="2.20"/>
<path d="M452.0,533.3 L453.6,530.3 L455.3,533.3 L453.6,536.3 Z" fill="#4a4a4a" stroke="#111" stroke-width="0.7" stroke-linejoin="round"/>
<rect x="455.60" y="529.30" width="12.00" height="8.00" fill="#8fd9c9" stroke="#222" stroke-width="0.8" rx="1.60" ry="2.20"/>
<rect x="467.90" y="529.30" width="3.70" height="8.00" fill="#cfcfcf" stroke="#222" stroke-width="0.8" rx="1.55" ry="2.20"/>
<rect x="472.00" y="529.30" width="5.90" height="8.00" fill="#cfcfcf" stroke="#222" stroke-width="0.8" rx="1.60" ry="2.20"/>
<rect x="478.20" y="529.30" width="2.30" height="8.00" fill="#cfcfcf" stroke="#222" stroke-width="0.8" rx="0.97" ry="2.20"/>
<rect x="480.70" y="529.30" width="2.30" height="8.00" fill="#cfcfcf" stroke="#222" stroke-width="0.8" rx="0.97" ry="2.20"/>
<rect x="483.20" y="529.30" width="2.50" height="8.00" fill="#cfcfcf" stroke="#222" stroke-width="0.8" rx="1.05" ry="2.20"/>
<rect x="486.00" y="529.30" width="3.00" height="8.00" fill="#f0402f" stroke="#222" stroke-width="0.8" rx="1.26" ry="2.20"/>
<rect x="489.30" y="529.30" width="2.20" height="8.00" fill="#cfcfcf" stroke="#222" stroke-width="0.8" rx="0.92" ry="2.20"/>
<rect x="491.70" y="529.30" width="2.30" height="8.00" fill="#cfcfcf" stroke="#222" stroke-width="0.8" rx="0.97" ry="2.20"/>
<rect x="494.20" y="529.30" width="4.80" height="8.00" fill="#cfcfcf" stroke="#222" stroke-width="0.8" rx="1.60" ry="2.20"/>
<rect x="499.20" y="529.30" width="2.60" height="8.00" fill="#cfcfcf" stroke="#222" stroke-width="0.8" rx="1.09" ry="2.20"/>
<rect x="502.00" y="529.30" width="5.50" height="8.00" fill="#cfcfcf" stroke="#222" stroke-width="0.8" rx="1.60" ry="2.20"/>
<rect x="507.90" y="529.30" width="38.30" height="8.00" fill="#cfcfcf" stroke="#222" stroke-width="0.8" rx="1.60" ry="2.20"/>
<rect x="547.00" y="529.30" width="4.20" height="8.00" fill="#cfcfcf" stroke="#222" stroke-width="0.8" rx="1.60" ry="2.20"/>
<rect x="552.20" y="529.30" width="4.60" height="8.00" fill="#cfcfcf" stroke="#222" stroke-width="0.8" rx="1.60" ry="2.20"/>
<path d="M560.40,529.30 L560.00,529.30 L558.00,533.30 L560.00,537.30 L560.40,537.30 Z" fill="#c8c800" stroke="#222" stroke-width="0.8" stroke-linejoin="round"/>
<rect x="560.70" y="529.30" width="7.70" height="8.00" fill="#e4e400" stroke="#222" stroke-width="0.8" rx="1.60" ry="2.20"/>
<path d="M568.9,530.7 L571.8,533.3 L568.9,535.9 Z" fill="#222" stroke="#111" stroke-width="0.5"/>
<path d="M343.3,529.0 V524.5 H346.6 M348.8,524.5 H352.0 M353.3,525.0 V528.6 M353.3,538.0 V542.0 H350.6 M348.2,542.0 H345.4 M343.3,542.0 V538.0" fill="none" stroke="#111" stroke-width="1.0"/>
<line x1="314.20" y1="544.30" x2="343.30" y2="541.30" stroke="#222" stroke-width="0.8"/>
<line x1="308.60" y1="549.50" x2="572.60" y2="549.50" stroke="#333" stroke-width="0.9"/>
<text transform="translate(440.30 558.10) scale(0.94 1)" text-anchor="middle">Pomma</text>
<text transform="translate(220.90 546.80) scale(0.94 1)">DNA transposition protein</text>
<path d="M227.10,559.80 L231.30,559.80 L233.70,562.80 L231.30,565.80 L227.10,565.80 Z" fill="#7ab4e6" stroke="#111" stroke-width="1.0" stroke-linejoin="round"/>
<text transform="translate(237.90 565.60) scale(0.94 1)">Connector</text>
<path d="M227.10,569.00 L231.30,569.00 L233.70,572.00 L231.30,575.00 L227.10,575.00 Z" fill="#e4e400" stroke="#111" stroke-width="1.0" stroke-linejoin="round"/>
<text transform="translate(237.90 574.80) scale(0.94 1)">DNA, RNA and nucleotide metabolism</text>
<path d="M227.10,578.70 L231.30,578.70 L233.70,581.70 L231.30,584.70 L227.10,584.70 Z" fill="#3b5998" stroke="#111" stroke-width="1.0" stroke-linejoin="round"/>
<text transform="translate(237.90 584.50) scale(0.94 1)">Head and packaging</text>
<path d="M387.50,565.80 L391.70,565.80 L394.10,568.80 L391.70,571.80 L387.50,571.80 Z" fill="#ff9a00" stroke="#111" stroke-width="1.0" stroke-linejoin="round"/>
<text transform="translate(398.70 571.60) scale(0.94 1)">Integration and excision</text>
<path d="M387.50,574.50 L391.70,574.50 L394.10,577.50 L391.70,580.50 L387.50,580.50 Z" fill="#f0402f" stroke="#111" stroke-width="1.0" stroke-linejoin="round"/>
<text transform="translate(398.70 580.30) scale(0.94 1)">Lysis</text>
<path d="M489.30,564.90 L493.50,564.90 L495.90,567.90 L493.50,570.90 L489.30,570.90 Z" fill="#4a4a4a" stroke="#111" stroke-width="1.0" stroke-linejoin="round"/>
<text transform="translate(500.10 570.70) scale(0.94 1)">Other</text>
<path d="M489.30,572.80 L493.50,572.80 L495.90,575.80 L493.50,578.80 L489.30,578.80 Z" fill="#8fd9c9" stroke="#111" stroke-width="1.0" stroke-linejoin="round"/>
<text transform="translate(500.10 578.60) scale(0.94 1)">Tail</text>
<path d="M533.20,563.50 L537.40,563.50 L539.80,566.50 L537.40,569.50 L533.20,569.50 Z" fill="#a64df2" stroke="#111" stroke-width="1.0" stroke-linejoin="round"/>
<text transform="translate(543.90 569.30) scale(0.94 1)">Transcription regulation</text>
<path d="M533.20,572.40 L537.40,572.40 L539.80,575.40 L537.40,578.40 L533.20,578.40 Z" fill="#cfcfcf" stroke="#111" stroke-width="1.0" stroke-linejoin="round"/>
<text transform="translate(543.90 578.20) scale(0.94 1)">Unknown function</text>
</g>
</svg>
</body></html>
